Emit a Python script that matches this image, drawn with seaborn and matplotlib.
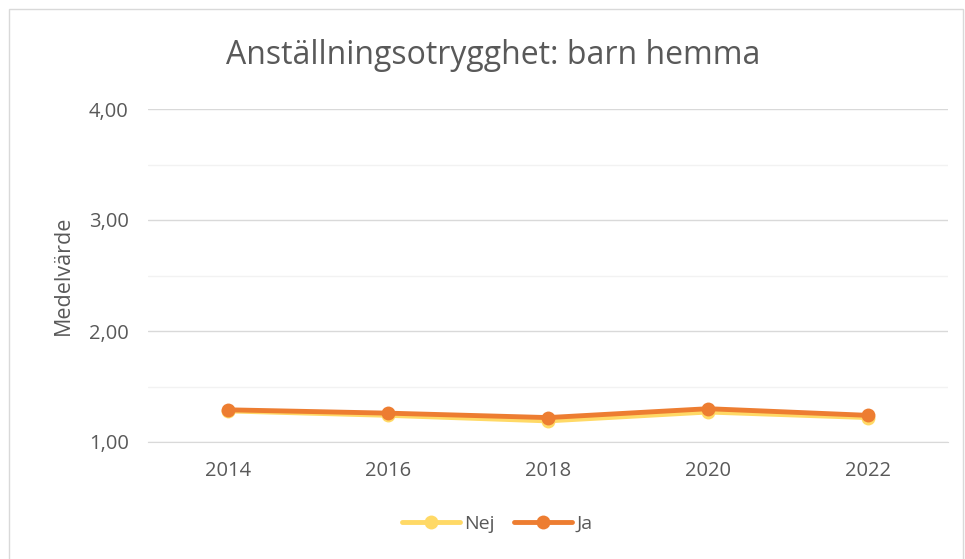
import matplotlib
matplotlib.use("Agg")
import matplotlib.pyplot as plt
import seaborn as sns
import pandas as pd
from matplotlib.patches import Rectangle
from matplotlib.lines import Line2D
from matplotlib.ticker import MultipleLocator, FuncFormatter

years = ["2014", "2016", "2018", "2020", "2022"]
nej = [1.28, 1.24, 1.19, 1.27, 1.22]
ja = [1.29, 1.26, 1.22, 1.30, 1.24]
series = ["Nej", "Ja"]
colors = {"Nej": "#FFD966", "Ja": "#ED7D31"}

df = pd.DataFrame({
    "x": list(range(len(years))) * 2,
    "varde": nej + ja,
    "grupp": ["Nej"] * len(years) + ["Ja"] * len(years),
})

sns.set_style("white")
plt.rcParams["font.family"] = ["Open Sans", "DejaVu Sans"]

fig = plt.figure(figsize=(9.65, 5.59), dpi=100)
ax = fig.add_axes([148 / 965, 1 - 442 / 559, 800 / 965, 333 / 559])

sns.lineplot(data=df, x="x", y="varde", hue="grupp", hue_order=series,
             palette=colors, marker="o", markersize=10, linewidth=3.5,
             markeredgewidth=0, ax=ax, legend=False)

ax.set_xlim(-0.5, len(years) - 0.5)
ax.set_ylim(1, 4)
ax.set_xticks(range(len(years)))
ax.set_xticklabels(years)
ax.yaxis.set_major_locator(MultipleLocator(1))
ax.yaxis.set_minor_locator(MultipleLocator(0.5))
ax.yaxis.set_major_formatter(FuncFormatter(lambda v, p: f"{v:.2f}".replace(".", ",")))
ax.grid(which="major", axis="y", color="#D9D9D9", linewidth=1)
ax.grid(which="minor", axis="y", color="#F2F2F2", linewidth=1)
ax.set_axisbelow(True)
for s in ["top", "right", "left"]:
    ax.spines[s].set_visible(False)
ax.spines["bottom"].set_color("#D9D9D9")
ax.tick_params(axis="both", which="both", length=0, labelsize=14.5, colors="#595959")
ax.tick_params(axis="x", pad=14)
ax.tick_params(axis="y", pad=14)
ax.set_xlabel("")
ax.set_ylabel("Medelvärde", fontsize=15.5, color="#595959", labelpad=11)

fig.text(493 / 965, 1 - 55 / 559, "Anställningsotrygghet: barn hemma",
         ha="center", va="center", fontsize=23, color="#595959")

handles = [Line2D([0], [0], color=colors[s], linewidth=3.5, marker="o",
                  markersize=10, markeredgewidth=0) for s in series]
fig.legend(handles, series, loc="center", bbox_to_anchor=(497 / 965, 1 - 524 / 559),
           ncol=2, frameon=False, fontsize=14, labelcolor="#595959",
           handlelength=3.0, columnspacing=1.0, handletextpad=0.2)

fig.patches.append(Rectangle((9 / 965, -0.01), 954 / 965, 1 - 9 / 559 + 0.01,
                             transform=fig.transFigure, fill=False,
                             edgecolor="#D9D9D9", linewidth=1))

fig.savefig("out.png", dpi=100)
